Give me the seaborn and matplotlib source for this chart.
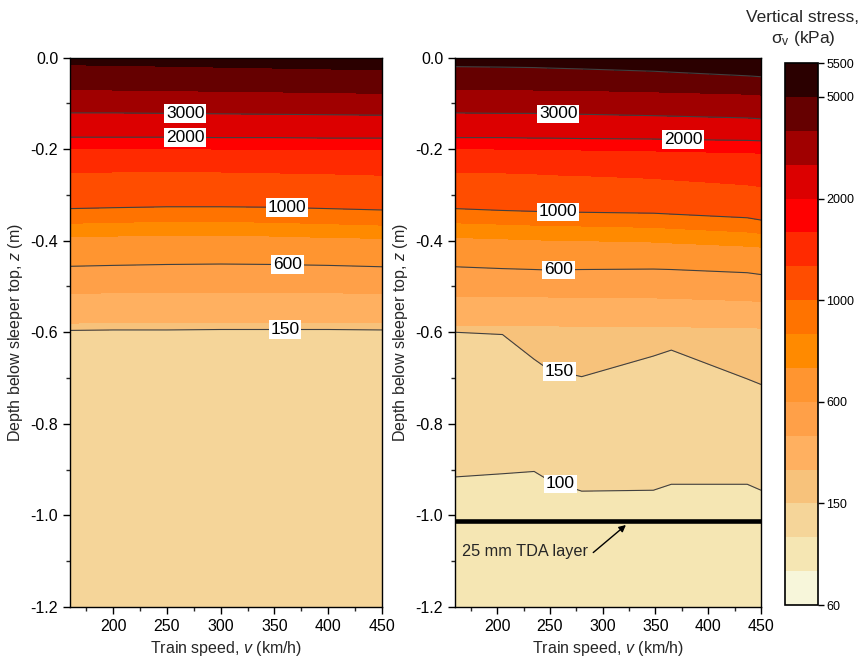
import numpy as np
import matplotlib
matplotlib.use("Agg")
import matplotlib.pyplot as plt
import seaborn as sns
from matplotlib.ticker import MultipleLocator

sns.set_style("ticks")
plt.rcParams['font.family'] = ['Liberation Sans', 'DejaVu Sans']
plt.rcParams['mathtext.fontset'] = 'custom'
plt.rcParams['mathtext.rm'] = 'Liberation Sans'
plt.rcParams['mathtext.it'] = 'Liberation Sans:italic'
plt.rcParams['mathtext.bf'] = 'Liberation Sans:bold'

# ---------------- data ----------------
levels = [60, 80, 100, 150, 300, 450, 600, 750, 900, 1000, 1300, 1600, 2000, 3000, 4000, 5000, 5500]
band_colors = ["#f7f6da", "#f5e6b3", "#f5d599", "#f7c27b", "#ffb060", "#ffa048",
               "#ff9530", "#ff8a00", "#ff7300", "#ff4d00", "#ff2a00", "#ff0000",
               "#dc0000", "#a00000", "#650000", "#2b0000"]
cbar_ticks = [60, 150, 600, 1000, 2000, 5000, 5500]

surface_stress = 5400
left_bottom_stress = 120
right_bottom_stress = 90
bottom_depth = -1.2

# Left panel: depth (m) of each stress contour at each speed
left_speeds = [160, 200, 250, 300, 350, 400, 450]
left_z5000 = [-0.016, -0.017, -0.019, -0.021, -0.023, -0.025, -0.027]
left_z4000 = [-0.070, -0.071, -0.072, -0.074, -0.075, -0.077, -0.078]
left_z3000 = [-0.121, -0.121, -0.122, -0.123, -0.124, -0.125, -0.126]
left_z2000 = [-0.174, -0.174, -0.174, -0.175, -0.175, -0.176, -0.176]
left_z1600 = [-0.198, -0.198, -0.199, -0.200, -0.200, -0.201, -0.202]
left_z1300 = [-0.252, -0.250, -0.249, -0.250, -0.252, -0.254, -0.257]
left_z1000 = [-0.330, -0.328, -0.326, -0.326, -0.327, -0.330, -0.333]
left_z900 = [-0.362, -0.360, -0.358, -0.358, -0.360, -0.363, -0.366]
left_z750 = [-0.392, -0.390, -0.388, -0.388, -0.390, -0.393, -0.395]
left_z600 = [-0.456, -0.454, -0.452, -0.451, -0.452, -0.454, -0.457]
left_z450 = [-0.515, -0.514, -0.513, -0.513, -0.513, -0.514, -0.515]
left_z300 = [-0.580, -0.579, -0.579, -0.578, -0.578, -0.578, -0.578]
left_z150 = [-0.596, -0.595, -0.595, -0.594, -0.594, -0.594, -0.595]

# Right panel (with 25 mm TDA layer)
right_speeds = [160, 205, 235, 248, 280, 348, 365, 437, 450]
right_z5000 = [-0.020, -0.021, -0.022, -0.023, -0.025, -0.030, -0.032, -0.040, -0.042]
right_z4000 = [-0.069, -0.070, -0.071, -0.071, -0.072, -0.075, -0.076, -0.080, -0.082]
right_z3000 = [-0.121, -0.122, -0.122, -0.123, -0.124, -0.127, -0.128, -0.132, -0.134]
right_z2000 = [-0.175, -0.175, -0.176, -0.176, -0.177, -0.178, -0.179, -0.181, -0.182]
right_z1600 = [-0.199, -0.200, -0.200, -0.201, -0.202, -0.204, -0.205, -0.208, -0.209]
right_z1300 = [-0.250, -0.252, -0.254, -0.256, -0.258, -0.264, -0.267, -0.278, -0.282]
right_z1000 = [-0.330, -0.334, -0.336, -0.337, -0.338, -0.340, -0.342, -0.350, -0.355]
right_z900 = [-0.361, -0.364, -0.366, -0.367, -0.368, -0.371, -0.373, -0.381, -0.384]
right_z750 = [-0.393, -0.396, -0.398, -0.399, -0.400, -0.403, -0.405, -0.412, -0.414]
right_z600 = [-0.457, -0.461, -0.463, -0.464, -0.463, -0.462, -0.463, -0.470, -0.474]
right_z450 = [-0.521, -0.522, -0.523, -0.523, -0.524, -0.525, -0.526, -0.531, -0.533]
right_z300 = [-0.585, -0.585, -0.586, -0.586, -0.587, -0.588, -0.588, -0.590, -0.591]
right_z150 = [-0.600, -0.605, -0.659, -0.680, -0.697, -0.652, -0.639, -0.702, -0.714]
right_z100 = [-0.916, -0.909, -0.904, -0.922, -0.947, -0.945, -0.932, -0.932, -0.945]

tda_depth = -1.0125

left_line_levels = [150, 600, 1000, 2000, 3000]
left_label_pos = [(267, -0.121), (267, -0.172), (362, -0.329), (362, -0.453), (360, -0.595)]
right_line_levels = [100, 150, 600, 1000, 2000, 3000, 5000]
right_label_pos = [(258, -0.121), (376, -0.176), (258, -0.337), (258, -0.466), (258, -0.697), (258, -0.944)]

# ---------------- figure ----------------
W, H = 861, 668
fig = plt.figure(figsize=(W / 100, H / 100), dpi=100)
axL = fig.add_axes([70 / W, 1 - 607 / H, 312 / W, 549.5 / H])
axR = fig.add_axes([455 / W, 1 - 607 / H, 306 / W, 549.5 / H])
cax = fig.add_axes([785 / W, 1 - 605 / H, 33 / W, 542 / H])


def build_grid(speeds, depth_rows, values):
    X = np.tile(np.asarray(speeds, float), (len(depth_rows), 1))
    Y = np.array(depth_rows, float)
    Z = np.repeat(np.asarray(values, float)[:, None], len(speeds), axis=1)
    return X, Y, Z


nL = len(left_speeds)
XL, YL, ZL = build_grid(
    left_speeds,
    [[0.0] * nL, left_z5000, left_z4000, left_z3000, left_z2000, left_z1600, left_z1300,
     left_z1000, left_z900, left_z750, left_z600, left_z450, left_z300, left_z150,
     [bottom_depth] * nL],
    [surface_stress, 5000, 4000, 3000, 2000, 1600, 1300, 1000, 900, 750, 600, 450, 300, 150,
     left_bottom_stress])

nR = len(right_speeds)
XR, YR, ZR = build_grid(
    right_speeds,
    [[0.0] * nR, right_z5000, right_z4000, right_z3000, right_z2000, right_z1600, right_z1300,
     right_z1000, right_z900, right_z750, right_z600, right_z450, right_z300, right_z150,
     right_z100, [bottom_depth] * nR],
    [surface_stress, 5000, 4000, 3000, 2000, 1600, 1300, 1000, 900, 750, 600, 450, 300, 150,
     100, right_bottom_stress])

line_kw = dict(colors="#404040", linewidths=0.8)
label_fs = 12.5

for ax, X, Y, Z, lv, pos in [(axL, XL, YL, ZL, left_line_levels, left_label_pos),
                             (axR, XR, YR, ZR, right_line_levels, right_label_pos)]:
    cf = ax.contourf(X, Y, Z, levels=levels, colors=band_colors)
    cl = ax.contour(X, Y, Z, levels=lv, **line_kw)
    txts = ax.clabel(cl, manual=pos, inline=False, fontsize=label_fs, fmt="%d")
    for t in txts:
        t.set_rotation(0)
        t.set_bbox(dict(facecolor="white", edgecolor="none", pad=1.2))
        t.set_color("black")

    ax.set_xlim(160, 450)
    ax.set_ylim(-1.2, 0.0)
    ax.set_xticks([200, 250, 300, 350, 400, 450])
    ax.xaxis.set_minor_locator(MultipleLocator(25))
    ax.yaxis.set_major_locator(MultipleLocator(0.2))
    ax.yaxis.set_minor_locator(MultipleLocator(0.1))
    ax.yaxis.set_major_formatter(matplotlib.ticker.FormatStrFormatter("%.1f"))
    ax.tick_params(which="major", direction="out", length=5, width=1, labelsize=11.5,
                   top=False, right=False, colors="black")
    ax.tick_params(which="minor", direction="out", length=3, width=1, top=False, right=False)
    for sp in ax.spines.values():
        sp.set_color("black")
        sp.set_linewidth(1.0)
    ax.set_xlabel(r"Train speed, $v$ (km/h)", fontsize=11.5, labelpad=4)
    ax.set_ylabel(r"Depth below sleeper top, $z$ (m)", fontsize=11.5, labelpad=4)

# TDA layer
axR.axhline(tda_depth, color="black", lw=3.3, zorder=5)
axR.annotate("", xy=(324, -1.017), xytext=(289, -1.085),
             arrowprops=dict(arrowstyle="-|>", color="black", lw=1.0, mutation_scale=10),
             zorder=6)
axR.text(167, -1.079, "25 mm TDA layer", fontsize=11.7, ha="left", va="center", zorder=6)

# colorbar
cb = fig.colorbar(cf, cax=cax, ticks=cbar_ticks)
cb.ax.tick_params(labelsize=9, length=4, width=1, pad=2, direction="out", colors="black")
cb.ax.minorticks_off()
cb.outline.set_linewidth(1.2)
cb.outline.set_edgecolor("black")
fig.text(803 / W, 1 - 17 / H, "Vertical stress,", fontsize=12.5, ha="center", va="center")
fig.text(803 / W, 1 - 38 / H, r"$\mathrm{\sigma_v}$ (kPa)", fontsize=12.5, ha="center", va="center")

fig.savefig("out.png", dpi=100)
